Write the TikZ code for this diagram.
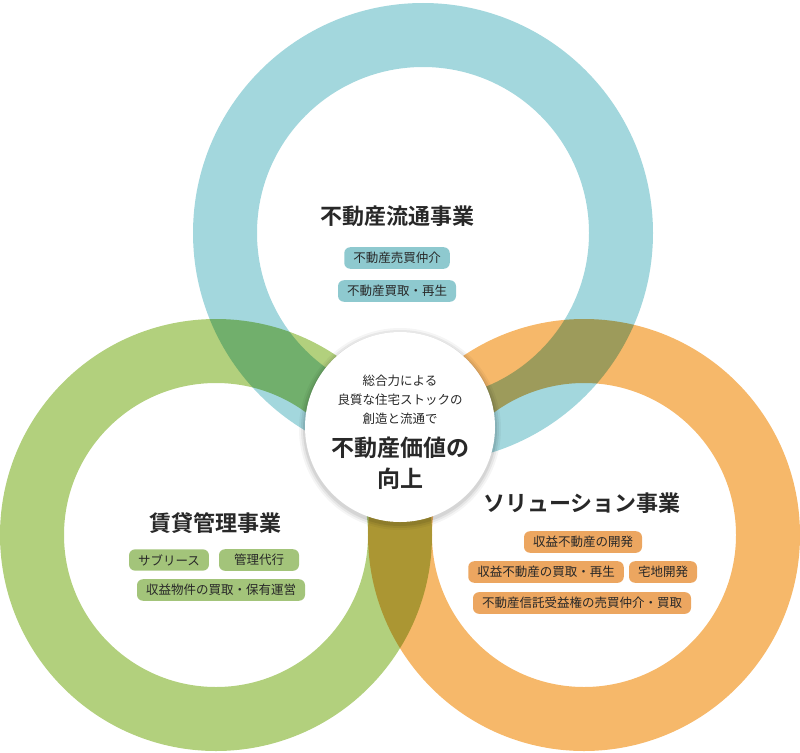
\documentclass[tikz,border=0pt]{standalone}
\usepackage{fontspec}
\setmainfont{Noto Sans CJK JP}
\newfontfamily\jpb{Noto Sans CJK JP Bold}
\definecolor{teal}{RGB}{163,215,221}
\definecolor{grn}{RGB}{178,208,125}
\definecolor{org}{RGB}{246,184,106}
\definecolor{tagT}{RGB}{142,201,207}
\definecolor{tagG}{RGB}{163,196,122}
\definecolor{tagO}{RGB}{236,166,96}
\definecolor{txt}{RGB}{40,40,40}
\tikzset{tag/.style={fill=#1,rounded corners=6pt,inner xsep=9pt,inner ysep=5pt,font=\fontsize{12.5}{13}\selectfont,text=txt},
 ttl/.style={font=\jpb\fontsize{22}{24}\selectfont,text=txt}}
\begin{document}
\begin{tikzpicture}[x=1pt,y=-1pt]
\useasboundingbox (0,0) rectangle (800,752);
\begin{scope}[blend group=multiply]
\fill[teal,even odd rule] (423,233) circle (230) (423,233) circle (166);
\fill[grn,even odd rule] (216,535) circle (216) (216,535) circle (152);
\fill[org,even odd rule] (584,535) circle (216) (584,535) circle (152);
\end{scope}
\foreach \r/\o in {101/0.04,99/0.06,97/0.08}
  \fill[black,opacity=\o] (400,429) circle (\r);
\node[circle,fill=white,minimum size=190,inner sep=0] (c) at (400,427) {};
\node[font=\fontsize{12.5}{19}\selectfont,text=txt,align=center] (c1) at (400,400) {総合力による\\良質な住宅ストックの\\創造と流通で};
\node[font=\jpb\fontsize{23}{31}\selectfont,text=txt,align=center] (c2) at (400,463) {不動産価値の\\向上};
\node[ttl] (t1) at (397,216) {不動産流通事業};
\node[tag=tagT] (a1) at (397,258) {不動産売買仲介};
\node[tag=tagT] (a2) at (397,291) {不動産買取・再生};
\node[ttl] (t2) at (215,523) {賃貸管理事業};
\node[tag=tagG,minimum width=72] (b1) at (169,560) {サブリース};
\node[tag=tagG,minimum width=80] (b2) at (259,560) {管理代行};
\node[tag=tagG] (b3) at (221,590) {収益物件の買取・保有運営};
\node[ttl] (t3) at (582,503) {ソリューション事業};
\node[tag=tagO] (d1) at (583,542) {収益不動産の開発};
\node[tag=tagO] (d2) at (546,572) {収益不動産の買取・再生};
\node[tag=tagO] (d3) at (663,572) {宅地開発};
\node[tag=tagO] (d4) at (582,603) {不動産信託受益権の売買仲介・買取};
\end{tikzpicture}
\end{document}
